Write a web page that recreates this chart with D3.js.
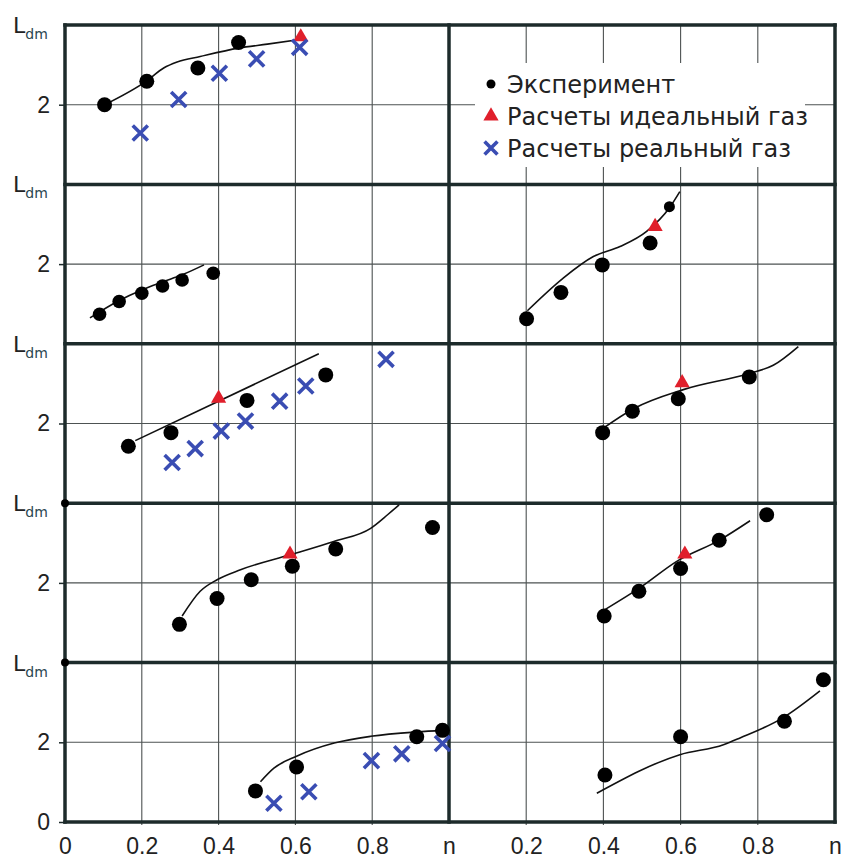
<!DOCTYPE html>
<html>
<head>
<meta charset="utf-8">
<script src="https://cdn.jsdelivr.net/npm/d3@7"></script>
<style>
  body { margin: 0; background: #fff; }
  svg { display: block; font-family: "DejaVu Sans", Verdana, sans-serif; }
</style>
</head>
<body>
<div id="chart"></div>
<script>
// axis values
const gridX = [0.2, 0.4, 0.6, 0.8];
const leftXLabels = [0, 0.2, 0.4, 0.6, 0.8, 1];
const rightXLabels = [0.2, 0.4, 0.6, 0.8, 1];
const legendLabels = ['Эксперимент', 'Расчеты идеальный газ', 'Расчеты реальный газ'];

// row 1, left
const exp1L = [[0.103, 2.00], [0.213, 2.59], [0.346, 2.92], [0.452, 3.56]];
const fit1L = [[0.103, 2.00], [0.213, 2.60], [0.257, 2.92], [0.292, 3.07], [0.352, 3.21], [0.452, 3.42], [0.527, 3.52], [0.614, 3.64]];
const ideal1L = [[0.614, 3.70]];
const real1L = [[0.196, 1.29], [0.296, 2.13], [0.402, 2.79], [0.499, 3.15], [0.611, 3.44]];

// row 2
const exp2L = [[0.090, 0.74], [0.141, 1.06], [0.200, 1.27], [0.254, 1.45], [0.305, 1.60], [0.386, 1.77]];
const fit2L = [[0.065, 0.65], [0.140, 1.08], [0.200, 1.35], [0.254, 1.55], [0.305, 1.73], [0.362, 1.98]];
const exp2R = [[0.201, 0.63], [0.290, 1.29], [0.397, 1.98], [0.521, 2.53], [0.571, 3.44]];
const fit2R = [[0.203, 0.83], [0.296, 1.65], [0.374, 2.19], [0.443, 2.44], [0.512, 2.82], [0.573, 3.44], [0.598, 3.82]];
const ideal2R = [[0.534, 2.94]];

// row 3
const exp3L = [[0.165, 1.43], [0.276, 1.77], [0.474, 2.58], [0.679, 3.22]];
const fit3L = [[0.183, 1.57], [0.661, 3.75]];
const ideal3L = [[0.400, 2.63]];
const real3L = [[0.279, 1.02], [0.339, 1.37], [0.407, 1.81], [0.470, 2.06], [0.559, 2.56], [0.627, 2.94], [0.836, 3.61]];
const exp3R = [[0.398, 1.77], [0.475, 2.31], [0.594, 2.62], [0.778, 3.17]];
const fit3R = [[0.398, 1.87], [0.478, 2.37], [0.607, 2.85], [0.775, 3.25], [0.840, 3.46], [0.905, 3.93]];
const ideal3R = [[0.604, 3.02]];

// row 4
const exp4L = [[0.298, 0.96], [0.396, 1.61], [0.485, 2.08], [0.592, 2.42], [0.705, 2.85], [0.957, 3.39]];
const fit4L = [[0.305, 1.17], [0.352, 1.79], [0.396, 2.08], [0.457, 2.33], [0.588, 2.71], [0.700, 3.04], [0.796, 3.37], [0.840, 3.71], [0.870, 3.96]];
const ideal4L = [[0.586, 2.72]];
const exp4R = [[0.402, 1.17], [0.492, 1.79], [0.600, 2.36], [0.700, 3.07], [0.823, 3.71]];
const fit4R = [[0.404, 1.33], [0.495, 1.88], [0.590, 2.54], [0.702, 3.08], [0.780, 3.56]];
const ideal4R = [[0.611, 2.72]];

// row 5
const exp5L = [[0.496, 0.78], [0.603, 1.38], [0.916, 2.14], [0.983, 2.30]];
const fit5L = [[0.509, 1.01], [0.544, 1.35], [0.603, 1.65], [0.701, 1.98], [0.796, 2.15], [0.916, 2.26], [0.988, 2.30]];
const real5L = [[0.544, 0.47], [0.635, 0.76], [0.798, 1.54], [0.877, 1.71], [0.983, 1.97]];
const exp5R = [[0.404, 1.18], [0.600, 2.14], [0.869, 2.53], [0.970, 3.57]];
const fit5R = [[0.383, 0.72], [0.598, 1.69], [0.711, 1.94], [0.754, 2.11], [0.866, 2.62], [0.961, 3.29]];

const panels = [
  { row: 0, col: 0, exp: exp1L, fit: fit1L, ideal: ideal1L, real: real1L },
  { row: 1, col: 0, exp: exp2L, fit: fit2L, ideal: [], real: [] },
  { row: 1, col: 1, exp: exp2R, fit: fit2R, ideal: ideal2R, real: [] },
  { row: 2, col: 0, exp: exp3L, fit: fit3L, ideal: ideal3L, real: real3L },
  { row: 2, col: 1, exp: exp3R, fit: fit3R, ideal: ideal3R, real: [] },
  { row: 3, col: 0, exp: exp4L, fit: fit4L, ideal: ideal4L, real: [] },
  { row: 3, col: 1, exp: exp4R, fit: fit4R, ideal: ideal4R, real: [] },
  { row: 4, col: 0, exp: exp5L, fit: fit5L, ideal: [], real: real5L },
  { row: 4, col: 1, exp: exp5R, fit: fit5R, ideal: [], real: [] },
];

const width = 842;
const height = 860;
const plot = { left: 65, mid: 449, right: 835, top: 25, bottom: 822 };
const nRows = 5;
const rowH = (plot.bottom - plot.top) / nRows;

const frameColor = '#1d2b2b';
const gridColor = '#4d5252';
const textColor = '#222';
const blue = '#3a4db3';
const red = '#e01f2b';

const xScales = [
  d3.scaleLinear().domain([0, 1]).range([plot.left, plot.mid]),
  d3.scaleLinear().domain([0, 1]).range([plot.mid, plot.right]),
];
const yScales = d3.range(nRows).map(i =>
  d3.scaleLinear().domain([0, 4]).range([plot.top + (i + 1) * rowH, plot.top + i * rowH]));

const svg = d3.select('#chart')
  .append('svg')
  .attr('width', width)
  .attr('height', height);

// thin gridlines
const grid = svg.append('g').attr('class', 'grid')
  .attr('stroke', gridColor).attr('stroke-width', 1.1);

xScales.forEach(x => {
  grid.selectAll(null)
    .data(gridX)
    .join('line')
    .attr('x1', d => x(d)).attr('x2', d => x(d))
    .attr('y1', plot.top).attr('y2', plot.bottom + 3);
});

yScales.forEach(y => {
  grid.append('line')
    .attr('x1', plot.left).attr('x2', plot.right)
    .attr('y1', y(2)).attr('y2', y(2));
});

// left axes with "2" (and "0" on the last row)
yScales.forEach((y, i) => {
  const ax = svg.append('g')
    .attr('transform', `translate(${plot.left},0)`)
    .call(d3.axisLeft(y)
      .tickValues(i === nRows - 1 ? [0, 2] : [2])
      .tickSize(6).tickPadding(9)
      .tickFormat(d3.format('d')));
  ax.select('.domain').remove();
  ax.selectAll('line').attr('stroke', frameColor).attr('stroke-width', 1.5);
  ax.selectAll('text').attr('fill', textColor).style('font-size', '23px');
});

// row label L_dm
yScales.forEach(y => {
  const t = svg.append('text')
    .attr('x', 13)
    .attr('y', y(4) + 8)
    .attr('fill', textColor)
    .style('font-size', '22px');
  t.append('tspan').text('L');
  t.append('tspan').attr('dy', 6).style('font-size', '14px').attr('fill', '#2a4650').text('dm');
});

// bottom axis labels
[[xScales[0], leftXLabels], [xScales[1], rightXLabels]].forEach(([x, vals]) => {
  const ax = svg.append('g')
    .attr('transform', `translate(0,${plot.bottom})`)
    .call(d3.axisBottom(x)
      .tickValues(vals)
      .tickSize(3).tickPadding(12.5)
      .tickFormat(d => d === 1 ? 'n' : d === 0 ? '0' : d3.format('.1f')(d)));
  ax.select('.domain').remove();
  ax.selectAll('line').remove();
  ax.selectAll('text').attr('fill', textColor).style('font-size', '23px');
});

// heavy frame
const frame = svg.append('g').attr('class', 'frame')
  .attr('stroke', frameColor).attr('stroke-width', 3.5).attr('stroke-linecap', 'square');

frame.selectAll(null)
  .data(d3.range(nRows + 1))
  .join('line')
  .attr('x1', plot.left).attr('x2', plot.right)
  .attr('y1', i => plot.top + i * rowH).attr('y2', i => plot.top + i * rowH);

frame.selectAll(null)
  .data([plot.left, plot.mid, plot.right])
  .join('line')
  .attr('x1', d => d).attr('x2', d => d)
  .attr('y1', plot.top).attr('y2', plot.bottom);

// small markers on the axis at the top of the last two rows
svg.append('g').selectAll('circle')
  .data([3, 4])
  .join('circle')
  .attr('cx', xScales[0](0))
  .attr('cy', i => yScales[i](4))
  .attr('r', 4)
  .attr('fill', '#000');

// panels
const line = d3.line().curve(d3.curveMonotoneX);
const triangle = d3.symbol(d3.symbolTriangle, 100);
const cross = d3.symbol(d3.symbolX, 150);

panels.forEach(p => {
  const x = xScales[p.col];
  const y = yScales[p.row];
  const g = svg.append('g');

  g.append('path')
    .attr('d', line(p.fit.map(d => [x(d[0]), y(d[1])])))
    .attr('fill', 'none')
    .attr('stroke', '#111')
    .attr('stroke-width', 1.6);

  g.selectAll('circle')
    .data(p.exp)
    .join('circle')
    .attr('cx', d => x(d[0]))
    .attr('cy', d => y(d[1]))
    .attr('r', (d, i) => (p.row === 1 && p.col === 1 && i === p.exp.length - 1) ? 5.5 : (p.row === 1 && p.col === 0 ? 6.8 : 7.5))
    .attr('fill', '#000');

  g.selectAll('path.ideal')
    .data(p.ideal)
    .join('path')
    .attr('class', 'ideal')
    .attr('d', triangle)
    .attr('transform', d => `translate(${x(d[0])},${y(d[1])})`)
    .attr('fill', red);

  g.selectAll('path.real')
    .data(p.real)
    .join('path')
    .attr('class', 'real')
    .attr('d', cross)
    .attr('transform', d => `translate(${x(d[0])},${y(d[1])})`)
    .attr('fill', 'none')
    .attr('stroke', blue)
    .attr('stroke-width', 3.6);
});

// legend
const legend = svg.append('g').attr('class', 'legend');
legend.append('rect')
  .attr('x', 475).attr('y', 63)
  .attr('width', 330).attr('height', 104)
  .attr('fill', '#fff');

const items = legend.selectAll('g.item')
  .data(legendLabels)
  .join('g')
  .attr('class', 'item')
  .attr('transform', (d, i) => `translate(491,${84 + i * 32})`);

items.append('text')
  .attr('x', 16)
  .attr('y', 9)
  .attr('fill', textColor)
  .style('font-size', '24px')
  .text(d => d);

items.filter((d, i) => i === 0).append('circle').attr('r', 4.5).attr('fill', '#000');
items.filter((d, i) => i === 1).append('path').attr('d', triangle).attr('fill', red);
items.filter((d, i) => i === 2).append('path').attr('d', d3.symbol(d3.symbolX, 110))
  .attr('fill', 'none').attr('stroke', blue).attr('stroke-width', 3.6);
</script>
</body>
</html>
